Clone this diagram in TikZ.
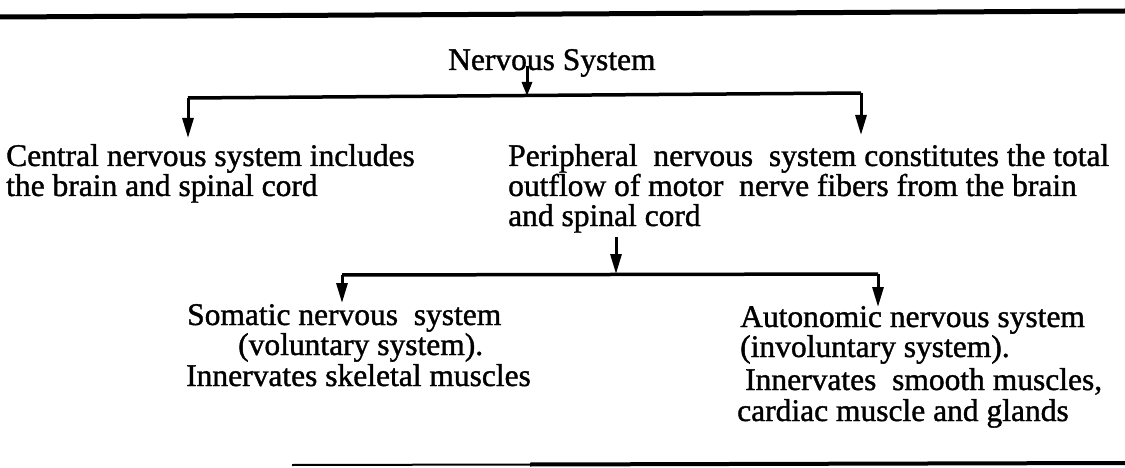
\documentclass[tikz,border=0pt]{standalone}
\usepackage{fontspec}
\newfontfamily\scan{Liberation Serif}[FakeBold=1.2]
\usetikzlibrary{arrows.meta}
\begin{document}
\begin{tikzpicture}[x=1pt,y=-1pt,
  txt/.style={anchor=base west, inner sep=0pt, font=\scan\fontsize{31.5}{31.5}\selectfont},
  conn/.style={line width=3.5pt, line cap=square},
  arr/.style={line width=3pt, -{Triangle[length=20pt,width=11pt]}},
  arrs/.style={line width=3pt, -{Triangle[length=14pt,width=10pt]}},
  rulethick/.style={line width=5pt},
  rulethin/.style={line width=2pt}]
\useasboundingbox (0,0) rectangle (1125,468);
\fill[white] (0,0) rectangle (1125,468);

% rules
\coordinate (tl) at (0,17);
\coordinate (tr) at (1125,11);
\draw[rulethick] (tl) -- (tr);
\coordinate (bl) at (292,465);
\coordinate (bm) at (530,464.5);
\coordinate (br) at (1125,463);
\draw[rulethin] (bl) -- (bm);
\draw[line width=4pt] (bm) -- (br);

% texts
\node[txt] (ns) at (448,70) {Nervous System};

\node[txt] (cns1) at (6,166) {Central nervous system includes};
\node[txt] (cns2) at (6,196) {the brain and spinal cord};

\node[txt] (pns1) at (508,166) {Peripheral~ nervous~ system constitutes the total};
\node[txt] (pns2) at (508,196) {outflow of motor~ nerve fibers from the brain};
\node[txt] (pns3) at (508,226) {and spinal cord};

\node[txt] (som1) at (187,325) {Somatic nervous~ system};
\node[txt] (som2) at (238,355) {(voluntary system).};
\node[txt] (som3) at (186,386) {Innervates skeletal muscles};

\node[txt] (aut1) at (740,327) {Autonomic nervous system};
\node[txt] (aut2) at (740,357) {(involuntary system).};
\node[txt] (aut3) at (745,390) {Innervates~ smooth muscles,};
\node[txt] (aut4) at (737,421) {cardiac muscle and glands};

% level 1 connector
\coordinate (nsout) at (527,66);
\coordinate (c1m) at (527,96);
\coordinate (c1l) at (188,98);
\coordinate (c1r) at (861,93);
\coordinate (cnstip) at (188,138);
\coordinate (pnstip) at (861,135);
\draw[arrs] (nsout) -- (c1m);
\draw[conn] (c1l) -- (c1r);
\draw[arr] (c1l) -- (cnstip);
\draw[arr] (c1r) -- (pnstip);

% level 2 connector
\coordinate (pnsout) at (616,237);
\coordinate (c2m) at (616,274);
\coordinate (c2l) at (342,275);
\coordinate (c2r) at (878,274);
\coordinate (somtip) at (342,303);
\coordinate (auttip) at (878,307);
\draw[arr] (pnsout) -- (c2m);
\draw[conn] (c2l) -- (c2r);
\draw[arr] (c2l) -- (somtip);
\draw[arr] (c2r) -- (auttip);
\end{tikzpicture}
\end{document}
